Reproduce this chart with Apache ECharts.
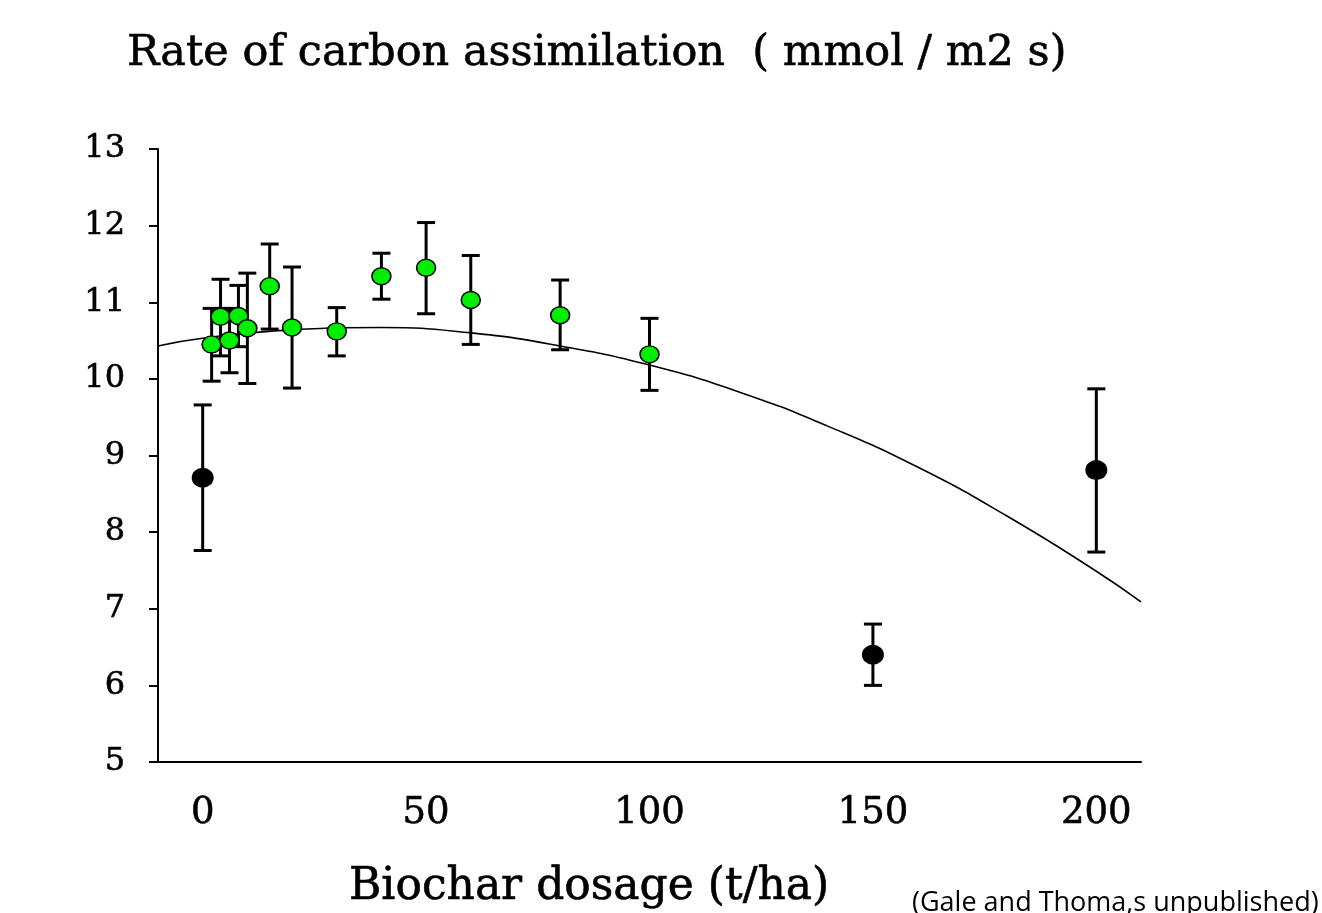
<!DOCTYPE html>
<html>
<head>
<meta charset="utf-8">
<script src="https://cdn.jsdelivr.net/npm/echarts@6/dist/echarts.min.js"></script>
<style>
html,body{margin:0;padding:0;background:#fff;}
#chart{width:1322px;height:913px;}
</style>
</head>
<body>
<div id="chart"></div>
<script>
// Data
const xTickLabels = [0, 50, 100, 150, 200];
const yTickLabels = [5, 6, 7, 8, 9, 10, 11, 12, 13];

const greenX = [2, 4, 6, 8, 10, 15, 20, 30, 40, 50, 60, 80, 100];
const greenY = [10.45, 10.81, 10.50, 10.82, 10.66, 11.21, 10.67, 10.62, 11.34, 11.45, 11.03, 10.83, 10.32];
const greenLow = [9.97, 10.30, 10.08, 10.42, 9.94, 10.65, 9.88, 10.30, 11.04, 10.85, 10.45, 10.38, 9.85];
const greenHigh = [10.92, 11.30, 10.92, 11.22, 11.38, 11.76, 11.46, 10.93, 11.64, 12.04, 11.61, 11.29, 10.79];

const blackX = [0, 150, 200];
const blackY = [8.71, 6.40, 8.81];
const blackLow = [7.76, 6.00, 7.74];
const blackHigh = [9.66, 6.80, 9.87];

const curveX = [-10, 0, 20, 40, 60, 80, 100, 120, 140, 160, 180, 200, 210];
const curveY = [10.43, 10.53, 10.64, 10.67, 10.60, 10.43, 10.18, 9.83, 9.38, 8.85, 8.21, 7.49, 7.09];

const titleText = 'Rate of carbon assimilation  ( mmol / m2 s)';
const xAxisName = 'Biochar dosage (t/ha)';
const footnote = '(Gale and Thoma,s unpublished)';

const zip = (a, b) => a.map((v, i) => [v, b[i]]);
const errData = (x, lo, hi) => x.map((v, i) => [v, lo[i], hi[i]]);

function errorBar(params, api) {
  const x = api.value(0);
  const lo = api.coord([x, api.value(1)]);
  const hi = api.coord([x, api.value(2)]);
  const cap = 9;
  const style = { stroke: '#000', lineWidth: 3 };
  return {
    type: 'group',
    children: [
      { type: 'line', shape: { x1: lo[0], y1: lo[1], x2: hi[0], y2: hi[1] }, style },
      { type: 'line', shape: { x1: lo[0] - cap, y1: lo[1], x2: lo[0] + cap, y2: lo[1] }, style },
      { type: 'line', shape: { x1: hi[0] - cap, y1: hi[1], x2: hi[0] + cap, y2: hi[1] }, style }
    ]
  };
}

const chart = echarts.init(document.getElementById('chart'), null, { renderer: 'canvas' });
const serif = 'DejaVu Serif';
const heavy = { textBorderColor: '#000', textBorderWidth: 0.6 };

chart.setOption({
  backgroundColor: '#fff',
  animation: false,
  title: [
    { text: titleText, left: 122, top: 27, textStyle: Object.assign({ fontFamily: serif, fontSize: 43, fontWeight: 'normal', color: '#000' }, heavy) },
    { text: xAxisName, left: 344, top: 861, textStyle: Object.assign({ fontFamily: serif, fontSize: 44, fontWeight: 'normal', color: '#000' }, heavy) },
    { text: footnote, left: 907, top: 885, textStyle: { fontFamily: 'Open Sans', fontSize: 27, fontWeight: 'normal', color: '#000' } }
  ],
  grid: { left: 158, right: 181, top: 149, bottom: 151, containLabel: false },
  xAxis: {
    type: 'value', min: -10, max: 210,
    splitLine: { show: false },
    axisLine: { lineStyle: { color: '#000', width: 2 } },
    axisTick: { show: false },
    axisLabel: Object.assign({
      customValues: xTickLabels,
      margin: 33,
      fontFamily: serif, fontSize: 37, color: '#000'
    }, heavy)
  },
  yAxis: {
    type: 'value', min: 5, max: 13, interval: 1,
    splitLine: { show: false },
    axisLine: { show: true, onZero: false, lineStyle: { color: '#000', width: 2 } },
    axisTick: { show: true, length: 9, lineStyle: { color: '#000', width: 2 }, customValues: yTickLabels },
    axisLabel: Object.assign({ customValues: yTickLabels, margin: 33, padding: [5, 0, 0, 0], fontFamily: serif, fontSize: 32, color: '#000' }, heavy)
  },
  series: [
    {
      type: 'line', data: zip(curveX, curveY), smooth: true, showSymbol: false, symbol: 'none',
      lineStyle: { color: '#000', width: 1.6 }, z: 1
    },
    { type: 'custom', data: errData(greenX, greenLow, greenHigh), renderItem: errorBar, z: 2 },
    { type: 'custom', data: errData(blackX, blackLow, blackHigh), renderItem: errorBar, z: 2 },
    {
      type: 'scatter', data: zip(greenX, greenY), symbol: 'circle', symbolSize: [19, 17],
      itemStyle: { color: '#00ee00', borderColor: '#000', borderWidth: 1.5, opacity: 1 }, z: 3
    },
    {
      type: 'scatter', data: zip(blackX, blackY), symbol: 'circle', symbolSize: [22, 20],
      itemStyle: { color: '#000', opacity: 1 }, z: 3
    }
  ]
});
</script>
</body>
</html>
